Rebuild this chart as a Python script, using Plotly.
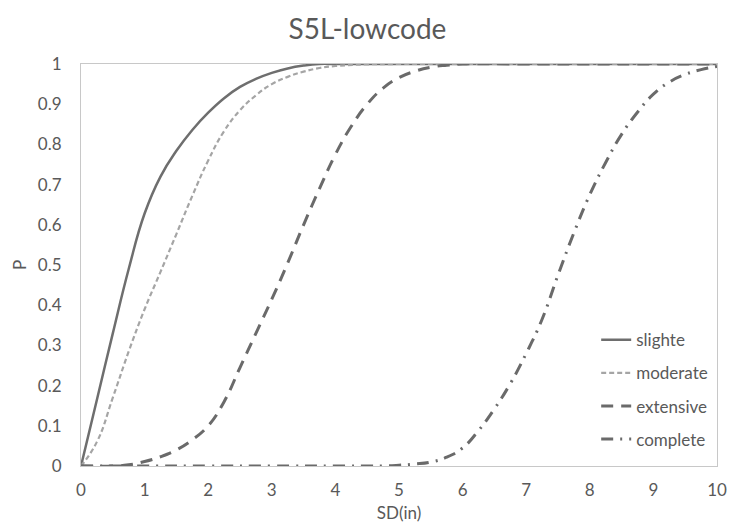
import plotly.graph_objects as go

# Damage-state fragility curves for S5L, low-code design
title_text = "S5L-lowcode"
x_title = "SD(in)"
y_title = "P"

sd_slight = [0, 0.25, 0.5, 0.75, 1, 1.25, 1.5, 1.75, 2, 2.25, 2.5, 2.75, 3, 3.25, 3.5, 3.75, 4, 5, 6, 7, 8, 9, 10]
p_slight = [0, 0.165, 0.33, 0.49, 0.628, 0.72, 0.784, 0.836, 0.879, 0.915, 0.943, 0.963, 0.978, 0.989, 0.996, 1, 1, 1, 1, 1, 1, 1, 1]

sd_moderate = [0, 0.25, 0.5, 0.75, 1, 1.25, 1.5, 1.75, 2, 2.25, 2.5, 2.75, 3, 3.25, 3.5, 3.75, 4, 4.5, 5, 6, 7, 8, 9, 10]
p_moderate = [0, 0.06, 0.17, 0.285, 0.39, 0.483, 0.577, 0.672, 0.76, 0.833, 0.885, 0.922, 0.95, 0.968, 0.981, 0.99, 0.995, 0.999, 1, 1, 1, 1, 1, 1]

sd_extensive = [0, 0.5, 0.75, 1, 1.25, 1.5, 1.75, 2, 2.25, 2.5, 2.75, 3, 3.25, 3.5, 3.75, 4, 4.25, 4.5, 4.75, 5, 5.25, 5.5, 5.75, 6, 7, 8, 9, 10]
p_extensive = [0, 0, 0.003, 0.011, 0.023, 0.04, 0.065, 0.1, 0.16, 0.245, 0.33, 0.415, 0.505, 0.6, 0.69, 0.775, 0.845, 0.9, 0.94, 0.966, 0.982, 0.992, 0.997, 1, 1, 1, 1, 1]

sd_complete = [0, 1, 2, 3, 4, 4.5, 4.75, 5, 5.25, 5.5, 5.75, 6, 6.25, 6.5, 6.75, 7, 7.25, 7.5, 7.75, 8, 8.25, 8.5, 8.75, 9, 9.25, 9.5, 9.75, 10]
p_complete = [0, 0, 0, 0, 0, 0, 0, 0.002, 0.005, 0.01, 0.022, 0.045, 0.088, 0.142, 0.205, 0.28, 0.365, 0.475, 0.58, 0.675, 0.755, 0.825, 0.88, 0.925, 0.955, 0.974, 0.986, 0.994]

x_ticks = [0, 1, 2, 3, 4, 5, 6, 7, 8, 9, 10]
y_ticks = [0, 0.1, 0.2, 0.3, 0.4, 0.5, 0.6, 0.7, 0.8, 0.9, 1]
y_tick_text = ["0", "0.1", "0.2", "0.3", "0.4", "0.5", "0.6", "0.7", "0.8", "0.9", "1"]

series = [
    ("slighte", sd_slight, p_slight, dict(color="#6e6e6e", width=2.5, dash="solid")),
    ("moderate", sd_moderate, p_moderate, dict(color="#a5a5a5", width=2.2, dash="5px,3px")),
    ("extensive", sd_extensive, p_extensive, dict(color="#6a6a6a", width=3, dash="12px,8px")),
    ("complete", sd_complete, p_complete, dict(color="#6a6a6a", width=3, dash="12px,7px,2px,7px")),
]

fig = go.Figure()
for name, xs, ys, line in series:
    fig.add_trace(go.Scatter(
        x=xs, y=ys, name=name, legendgroup=name, mode="lines",
        line=dict(shape="spline", smoothing=1.3, **line),
    ))

font_family = "Lato, 'Open Sans', sans-serif"
grey_text = "#595959"
frame = "#c8c8c8"

fig.update_layout(
    width=735, height=531,
    margin=dict(l=81, r=8, t=64, b=65),
    paper_bgcolor="white", plot_bgcolor="white",
    font=dict(family=font_family, size=17, color=grey_text),
    title=dict(text=title_text, x=0.5, xanchor="center", y=0.945, yanchor="middle",
               font=dict(size=28, color=grey_text, family=font_family)),
    showlegend=True,
    legend=dict(x=0.994, xanchor="right", y=0.022, yanchor="bottom",
                bgcolor="rgba(0,0,0,0)", font=dict(size=17, color=grey_text),
                tracegroupgap=8),
)

fig.update_xaxes(
    range=[0, 10], tickvals=x_ticks, ticktext=[str(v) for v in x_ticks],
    showgrid=False, zeroline=False, showline=True, linecolor=frame, linewidth=1, mirror=True,
    ticks="", ticklabelstandoff=9, ticklabeloverflow="allow",
    title=dict(text=x_title, standoff=7, font=dict(size=17, color=grey_text)),
    tickfont=dict(size=17, color=grey_text),
)
fig.update_yaxes(
    range=[0, 1], tickvals=y_ticks, ticktext=y_tick_text,
    showgrid=False, zeroline=False, showline=True, linecolor=frame, linewidth=1, mirror=True,
    ticks="", ticklabelstandoff=15,
    title=dict(text=y_title, standoff=6, font=dict(size=17, color=grey_text)),
    tickfont=dict(size=17, color=grey_text),
)

fig.write_html("out.html")
